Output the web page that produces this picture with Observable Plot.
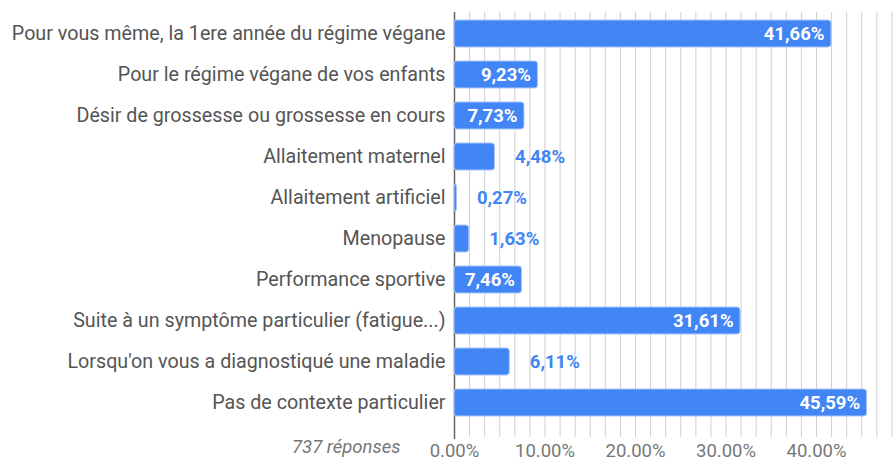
<!DOCTYPE html>
<html>
<head>
<meta charset="utf-8">
<script src="https://cdn.jsdelivr.net/npm/d3@7"></script>
<script src="https://cdn.jsdelivr.net/npm/@observablehq/plot@0.6"></script>
<style>
  html, body { margin: 0; padding: 0; background: #fff; }
  #chart svg { display: block; font-family: Roboto, "Noto Sans", sans-serif; }
</style>
</head>
<body>
<div id="chart"></div>
<script>
const categories = [
  "Pour vous même, la 1ere année du régime végane",
  "Pour le régime végane de vos enfants",
  "Désir de grossesse ou grossesse en cours",
  "Allaitement maternel",
  "Allaitement artificiel",
  "Menopause",
  "Performance sportive",
  "Suite à un symptôme particulier (fatigue...)",
  "Lorsqu'on vous a diagnostiqué une maladie",
  "Pas de contexte particulier"
];
const values = [41.66, 9.23, 7.73, 4.48, 0.27, 1.63, 7.46, 31.61, 6.11, 45.59];
const majorTicks = [0, 10, 20, 30, 40];
const minorStep = 10 / 6;
const caption = "737 réponses";

const data = categories.map((c, i) => ({category: c, value: values[i]}));
const gridValues = d3.range(0, 30).map(k => k * minorStep);
const fmt = v => v.toFixed(2).replace(".", ",") + "%";
const blue = "#4285F4";

const chart = Plot.plot({
  width: 896,
  height: 464,
  marginLeft: 454,
  marginRight: 0,
  marginTop: 12,
  marginBottom: 41,
  x: {domain: [0, 48.84], axis: null},
  y: {domain: categories, padding: 0.35, paddingOuter: 0.1, axis: null},
  marks: [
    Plot.ruleX(gridValues, {stroke: "#cfcfcf", strokeWidth: 1, insetBottom: -14}),
    Plot.ruleX([0], {stroke: "#666", strokeWidth: 1.5, insetBottom: -16}),
    Plot.barX(data, {y: "category", x: "value", fill: blue, stroke: "#a9c6fa", strokeWidth: 1, rx: 3}),
    Plot.text(data.filter(d => d.value >= 7), {
      y: "category", x: "value", text: d => fmt(d.value),
      textAnchor: "end", dx: -7, fill: "white", fontWeight: "bold", fontSize: 18.5
    }),
    Plot.text(data.filter(d => d.value < 7), {
      y: "category", x: "value", text: d => fmt(d.value),
      textAnchor: "start", dx: 20, fill: blue, fontWeight: "bold", fontSize: 18.5
    }),
    Plot.axisY({tickSize: 0, tickPadding: 9, fontSize: 19.7, color: "#555", label: null}),
    Plot.axisX(majorTicks, {tickSize: 0, tickPadding: 20, fontSize: 18.5, color: "#777",
      tickFormat: d => d.toFixed(2) + "%", label: null}),
    Plot.text([caption], {frameAnchor: "bottom-left", textAnchor: "end", dx: -54, dy: 29,
      fontStyle: "italic", fontSize: 18.5, fill: "#777"})
  ]
});
document.getElementById("chart").append(chart);
</script>
</body>
</html>
